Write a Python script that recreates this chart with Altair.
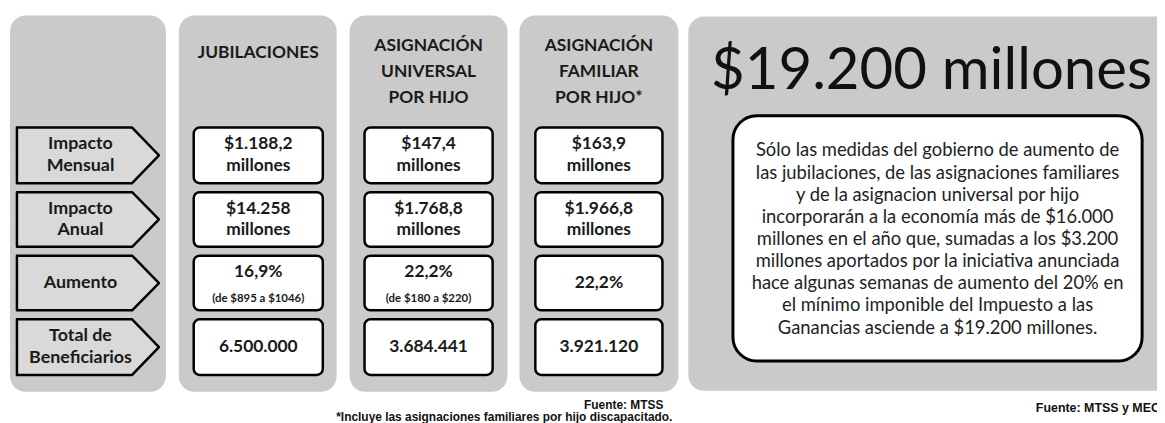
import altair as alt
import pandas as pd

# ---------------- data ----------------
col_headers = ["JUBILACIONES", "ASIGNACIÓN\nUNIVERSAL\nPOR HIJO", "ASIGNACIÓN\nFAMILIAR\nPOR HIJO*"]
row_labels = ["Impacto\nMensual", "Impacto\nAnual", "Aumento", "Total de\nBeneficiarios"]
impacto_mensual = ["$1.188,2", "$147,4", "$163,9"]
impacto_anual = ["$14.258", "$1.768,8", "$1.966,8"]
unidad = "millones"
aumento = ["16,9%", "22,2%", "22,2%"]
aumento_detalle = ["(de $895 a $1046)", "(de $180 a $220)", ""]
beneficiarios = ["6.500.000", "3.684.441", "3.921.120"]
total_titulo = "$19.200 millones"
parrafo = [
    "Sólo las medidas del gobierno de aumento de",
    "las jubilaciones, de las asignaciones familiares",
    "y de la asignacion universal por hijo",
    "incorporarán a la economía más de $16.000",
    "millones en el año que, sumadas a los $3.200",
    "millones aportados por la iniciativa anunciada",
    "hace algunas semanas de aumento del 20% en",
    "el mínimo imponible del Impuesto a las",
    "Ganancias  asciende a $19.200 millones.",
]
fuente_tabla = "Fuente: MTSS"
nota_tabla = "*Incluye las asignaciones familiares por hijo discapacitado."
fuente_total = "Fuente: MTSS y MECON"

# ---------------- layout (pixels) ----------------
W, H = 1157, 415
panels_x = [(10, 167), (180, 339), (352, 511), (523, 683), (693, 1190)]
panel_y = (14, 393)
box_x = [(195, 325), (367, 496), (539, 667)]
rows_y = [(127, 183), (192, 247), (256, 311), (320, 376)]
arrow_x = (17, 133, 160)
header_y_one, header_y_multi = 52, 71
LH = 22
FONT_B = "Lato"
INK = "#1a1a1a"

xs = alt.Scale(domain=[8, 8 + W])
ys = alt.Scale(domain=[8, 8 + H], reverse=True)
X = lambda f: alt.X(f, type="quantitative", scale=xs, axis=None)
Y = lambda f: alt.Y(f, type="quantitative", scale=ys, axis=None)


def lines(x, cy, text, lh):
    parts = text.split("\n")
    n = len(parts)
    return [{"x": x, "y": cy + (i - (n - 1) / 2) * lh, "t": p} for i, p in enumerate(parts)]


def text_layer(rows, **kw):
    return alt.Chart(pd.DataFrame(rows)).mark_text(baseline="middle", **kw).encode(
        x=X("x"), y=Y("y"), text="t:N")


# panels
pan = pd.DataFrame([{"x": a, "x2": b, "y": panel_y[0], "y2": panel_y[1]} for a, b in panels_x])
pan.loc[4, "y"] = 15
pan.loc[4, "y2"] = 392
panels = alt.Chart(pan).mark_rect(cornerRadius=16, fill="#cacaca").encode(
    x=X("x"), x2="x2", y=Y("y"), y2="y2")

# value boxes
bx = []
for ci, (a, b) in enumerate(box_x):
    for ri, (t, btm) in enumerate(rows_y):
        bx.append({"x": a, "x2": b, "y": t, "y2": btm})
boxes = alt.Chart(pd.DataFrame(bx)).mark_rect(
    cornerRadius=6, fill="white", stroke="black", strokeWidth=2.5).encode(
    x=X("x"), x2="x2", y=Y("y"), y2="y2")

# arrows
ar = []
for ri, (t, btm) in enumerate(rows_y):
    m = (t + btm) / 2
    ar += [{"r": ri, "x": arrow_x[0], "y": t, "y2": btm},
           {"r": ri, "x": arrow_x[1], "y": t, "y2": btm},
           {"r": ri, "x": arrow_x[2], "y": m, "y2": m}]
arrows = alt.Chart(pd.DataFrame(ar)).mark_area(
    orient="vertical", fill="#d9d9d9", stroke="black", strokeWidth=2.5,
    strokeJoin="round", fillOpacity=1).encode(
    x=X("x"), y=Y("y"), y2="y2", detail="r:N")

# row label text
lab = []
for i, (t, b) in enumerate(rows_y):
    lab += lines(81, (t + b) / 2, row_labels[i], LH)
labels = text_layer(lab, font=FONT_B, fontWeight="bold", fontSize=18, align="center", color=INK)

# headers
hd = []
for ci, (a, b) in enumerate(box_x):
    multi = "\n" in col_headers[ci]
    hd += lines((a + b) / 2, header_y_multi if multi else header_y_one, col_headers[ci], 26)
headers = text_layer(hd, font=FONT_B, fontWeight="bold", fontSize=17.5, align="center", color=INK)

# box values
vt, sm = [], []
for ci, (a, b) in enumerate(box_x):
    cx = (a + b) / 2
    cy = [(t + btm) / 2 for t, btm in rows_y]
    vt += lines(cx, cy[0], impacto_mensual[ci] + "\n" + unidad, LH)
    vt += lines(cx, cy[1], impacto_anual[ci] + "\n" + unidad, LH)
    if aumento_detalle[ci]:
        vt += lines(cx, cy[2] - 11, aumento[ci], LH)
        sm += lines(cx, cy[2] + 16, aumento_detalle[ci], LH)
    else:
        vt += lines(cx, cy[2], aumento[ci], LH)
    vt += lines(cx, cy[3], beneficiarios[ci], LH)
values = text_layer(vt, font=FONT_B, fontWeight="bold", fontSize=17.5, align="center", color=INK)
small = text_layer(sm, font=FONT_B, fontWeight="bold", fontSize=11.5, align="center", color=INK)

# big title
big = text_layer(lines(938, 70, total_titulo, LH), font=FONT_B, fontSize=58.5, align="center", color="#111111")

# inner white box
inner = alt.Chart(pd.DataFrame([{"x": 738, "x2": 1150, "y": 115, "y2": 362}])).mark_rect(
    cornerRadius=24, fill="white", stroke="black", strokeWidth=3).encode(
    x=X("x"), x2="x2", y=Y("y"), y2="y2")

par = [{"x": 944, "y": 150 + i * 22.3, "t": s} for i, s in enumerate(parrafo)]
para = text_layer(par, font=FONT_B, fontSize=18.5, align="center", color="#222222")

# footnotes
foot = text_layer([{"x": 668, "y": 406, "t": fuente_tabla}, {"x": 677, "y": 418, "t": nota_tabla}],
                  font="Liberation Sans", fontWeight="bold", fontSize=12, align="right", color="#111111")
foot2 = text_layer([{"x": 1043, "y": 409, "t": fuente_total}],
                   font="Liberation Sans", fontWeight="bold", fontSize=12.5, align="left", color="#111111")

chart = alt.layer(panels, arrows, boxes, labels, headers, values, small, big, inner, para, foot, foot2).properties(
    width=W, height=H, autosize=alt.AutoSizeParams(type="none"), padding=0, background="white"
).configure_view(stroke=None)

chart.save("out.html", embed_options={"renderer": "svg", "actions": False})
